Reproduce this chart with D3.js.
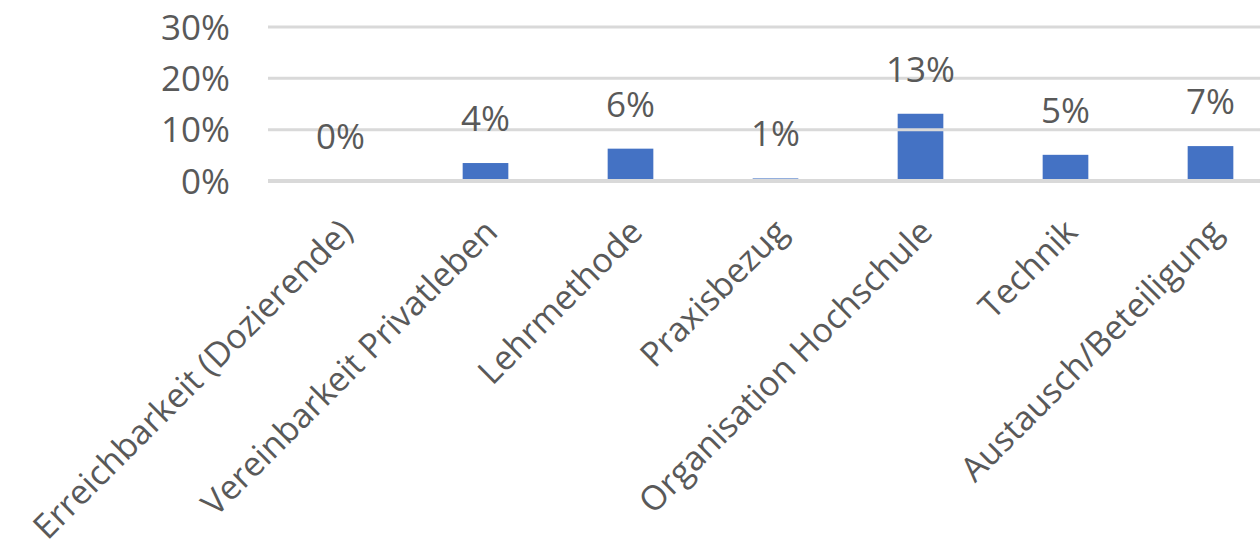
<!DOCTYPE html>
<html>
<head>
<meta charset="utf-8">
<script src="https://cdn.jsdelivr.net/npm/d3@7"></script>
<style>
  body { margin: 0; background: #fff; }
  text { font-family: "Open Sans", sans-serif; fill: #595959; }
</style>
</head>
<body>
<script>
// Data
var categories = ["Erreichbarkeit (Dozierende)", "Vereinbarkeit Privatleben", "Lehrmethode",
                  "Praxisbezug", "Organisation Hochschule", "Technik", "Austausch/Beteiligung"];
var values = [0, 3.5, 6.3, 0.5, 13.1, 5.1, 6.8];   // percent
var yTicks = [0, 10, 20, 30];

var width = 1260, height = 554;
var margin = {top: 27, left: 268, bottom: 373};

var svg = d3.select("body").append("svg")
    .attr("width", width)
    .attr("height", height);

// scales
var x = d3.scaleBand()
    .domain(categories)
    .range([margin.left, margin.left + 145 * categories.length])
    .paddingInner(0.685)
    .paddingOuter(0.3425);

var y = d3.scaleLinear()
    .domain([0, 30])
    .range([height - margin.bottom, margin.top]);

// bars
svg.append("g").selectAll("rect")
    .data(values).enter()
    .append("rect")
    .attr("x", function(d, i){ return x(categories[i]); })
    .attr("y", function(d){ return y(d); })
    .attr("width", x.bandwidth())
    .attr("height", function(d){ return y(0) - y(d); })
    .attr("fill", "#4472c4");

// gridlines (drawn over the bar feet like the original)
svg.append("g").selectAll("line")
    .data(yTicks).enter()
    .append("line")
    .attr("x1", margin.left).attr("x2", width)
    .attr("y1", function(d){ return y(d); })
    .attr("y2", function(d){ return y(d); })
    .attr("stroke", "#d9d9d9")
    .attr("stroke-width", function(d){ return d === 0 ? 4 : 3; });

// y labels
svg.append("g").selectAll("text")
    .data(yTicks).enter()
    .append("text")
    .attr("x", 230)
    .attr("y", function(d){ return y(d); })
    .attr("dy", "0.36em")
    .attr("text-anchor", "end")
    .style("font-size", "35px")
    .text(function(d){ return d + "%"; });

// value labels
svg.append("g").selectAll("text")
    .data(values).enter()
    .append("text")
    .attr("x", function(d, i){ return x(categories[i]) + x.bandwidth() / 2; })
    .attr("y", function(d){ return y(d) - 32; })
    .attr("text-anchor", "middle")
    .style("font-size", "35px")
    .text(function(d){ return Math.round(d) + "%"; });

// category labels
svg.append("g").selectAll("text")
    .data(categories).enter()
    .append("text")
    .attr("text-anchor", "end")
    .attr("transform", function(d){
        return "translate(" + (x(d) + x.bandwidth() / 2 + 14) + ",234) rotate(-45)";
    })
    .style("font-size", "34px")
    .text(function(d){ return d; });
</script>
</body>
</html>
